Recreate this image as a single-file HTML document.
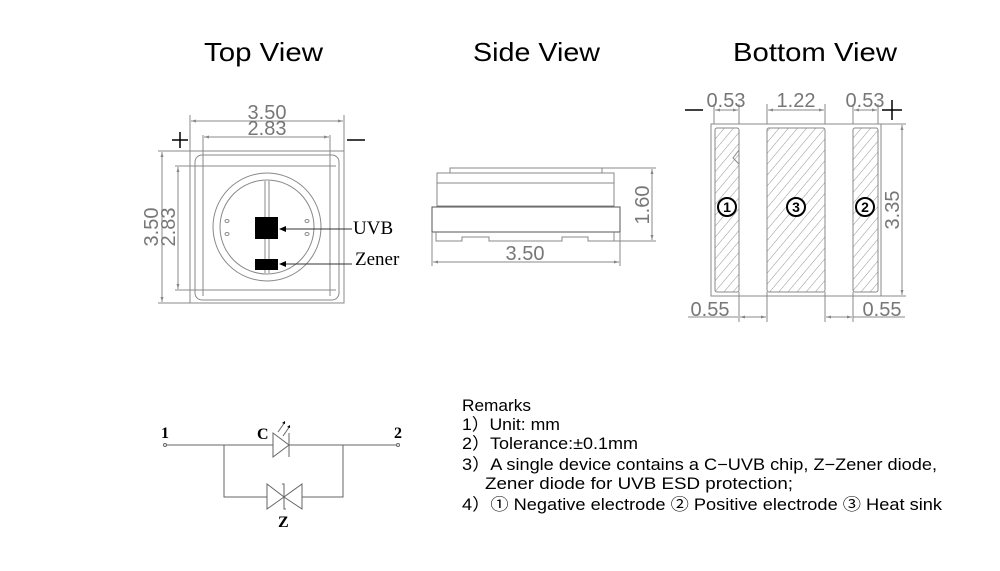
<!DOCTYPE html>
<html><head><meta charset="utf-8"><style>
body{margin:0;background:#fff;}
svg{display:block}
.t{font-family:"Liberation Sans",sans-serif;fill:#000}
.d{font-family:"Liberation Sans",sans-serif;fill:#777;font-size:20px}
.s{font-family:"Liberation Serif",serif;fill:#000}
</style></head><body>
<svg width="1000" height="571" viewBox="0 0 1000 571" xmlns="http://www.w3.org/2000/svg">
<defs>
<marker id="a" viewBox="0 0 10 10" refX="10" refY="5" markerWidth="7" markerHeight="5" orient="auto-start-reverse"><path d="M0,2 L10,5 L0,8z" fill="#888"/></marker>
<pattern id="h" width="7" height="7" patternUnits="userSpaceOnUse" patternTransform="rotate(40)"><line x1="0" y1="0" x2="0" y2="7" stroke="#888" stroke-width="0.9"/></pattern>
</defs>
<g class="t" font-size="26">
<text x="204" y="61" textLength="119" lengthAdjust="spacingAndGlyphs">Top View</text>
<text x="473" y="61" textLength="127" lengthAdjust="spacingAndGlyphs">Side View</text>
<text x="733" y="61" textLength="164" lengthAdjust="spacingAndGlyphs">Bottom View</text>
</g>
<!-- Top view -->
<g fill="none" stroke="#888" stroke-width="1">
<rect x="190" y="151" width="154" height="152"/>
<rect x="195" y="155" width="144" height="145" rx="7"/>
<line x1="203" y1="135" x2="203" y2="296"/><line x1="330" y1="135" x2="330" y2="296"/>
<line x1="175" y1="166" x2="336" y2="166"/><line x1="175" y1="290" x2="336" y2="290"/>
<line x1="190" y1="115" x2="190" y2="151"/><line x1="344" y1="115" x2="344" y2="151"/>
<line x1="158" y1="151" x2="190" y2="151"/><line x1="158" y1="303" x2="190" y2="303"/>
<circle cx="267" cy="227" r="54"/><circle cx="267" cy="227" r="47"/>
<line x1="265" y1="181" x2="265" y2="273"/><line x1="269" y1="181" x2="269" y2="273"/>
<line x1="191" y1="121" x2="343" y2="121" marker-start="url(#a)" marker-end="url(#a)"/>
<line x1="204" y1="137" x2="329" y2="137" marker-start="url(#a)" marker-end="url(#a)"/>
<line x1="162" y1="152" x2="162" y2="302" marker-start="url(#a)" marker-end="url(#a)"/>
<line x1="178" y1="167" x2="178" y2="289" marker-start="url(#a)" marker-end="url(#a)"/>
<ellipse cx="227" cy="221" rx="2" ry="1.5"/><ellipse cx="227" cy="234" rx="2" ry="1.5"/>
<ellipse cx="307" cy="221" rx="2" ry="1.5"/><ellipse cx="307" cy="234" rx="2" ry="1.5"/>
</g>
<rect x="255" y="217" width="23" height="22" fill="#000"/>
<rect x="255" y="259" width="23" height="11" fill="#000"/>
<g stroke="#333" stroke-width="1"><line x1="280" y1="229" x2="352" y2="229"/><line x1="280" y1="264" x2="352" y2="264"/></g>
<path d="M279,229 l7,-3 v6z M279,264 l7,-3 v6z" fill="#000"/>
<text class="s" x="353" y="234" font-size="19">UVB</text>
<text class="s" x="355" y="265" font-size="19">Zener</text>
<g stroke="#000" stroke-width="1.5"><line x1="172" y1="140" x2="188" y2="140"/><line x1="180" y1="132" x2="180" y2="148"/><line x1="347" y1="140" x2="365" y2="140"/></g>
<text class="d" x="267" y="119" text-anchor="middle">3.50</text>
<text class="d" x="267" y="135" text-anchor="middle">2.83</text>
<text class="d" transform="translate(158,227) rotate(-90)" text-anchor="middle">3.50</text>
<text class="d" transform="translate(175,227) rotate(-90)" text-anchor="middle">2.83</text>
<!-- Side view -->
<g fill="none" stroke="#888" stroke-width="1">
<path d="M450,173 V168 H602 V173"/>
<rect x="437" y="173" width="177" height="33"/>
<line x1="437" y1="183" x2="614" y2="183"/>
<rect x="432" y="207" width="188" height="25" stroke="#555"/>
<path d="M436,232 V241 H462 V237 H489 V241 H562 V237 H588 V241 H614 V232"/>
<line x1="602" y1="168" x2="656" y2="168"/><line x1="614" y1="241" x2="656" y2="241"/>
<line x1="652" y1="169" x2="652" y2="240" marker-start="url(#a)" marker-end="url(#a)"/>
<line x1="432" y1="232" x2="432" y2="266"/><line x1="620" y1="232" x2="620" y2="266"/>
<line x1="433" y1="262" x2="619" y2="262" marker-start="url(#a)" marker-end="url(#a)"/>
</g>
<text class="d" x="525" y="260" text-anchor="middle">3.50</text>
<text class="d" transform="translate(649,205) rotate(-90)" text-anchor="middle">1.60</text>
<!-- Bottom view -->
<g stroke="#888" stroke-width="1">
<rect x="711" y="124" width="170" height="172" fill="none"/>
<rect x="715" y="128" width="24" height="164" rx="2" fill="url(#h)"/>
<rect x="767" y="128" width="58" height="164" rx="2" fill="url(#h)"/>
<rect x="853" y="128" width="25" height="164" rx="2" fill="url(#h)"/>
<path d="M739,150 l-6,8 l6,6" fill="none"/>
<g fill="none">
<line x1="714" y1="104" x2="714" y2="124"/><line x1="739" y1="104" x2="739" y2="124"/>
<line x1="767" y1="104" x2="767" y2="124"/><line x1="825" y1="104" x2="825" y2="124"/>
<line x1="853" y1="104" x2="853" y2="124"/><line x1="878" y1="104" x2="878" y2="124"/>
<line x1="715" y1="110" x2="738" y2="110" marker-start="url(#a)" marker-end="url(#a)"/>
<line x1="768" y1="110" x2="824" y2="110" marker-start="url(#a)" marker-end="url(#a)"/>
<line x1="854" y1="110" x2="877" y2="110" marker-start="url(#a)" marker-end="url(#a)"/>
<line x1="881" y1="124" x2="906" y2="124"/><line x1="881" y1="296" x2="906" y2="296"/>
<line x1="902" y1="125" x2="902" y2="295" marker-start="url(#a)" marker-end="url(#a)"/>
<line x1="739" y1="292" x2="739" y2="322"/><line x1="767" y1="292" x2="767" y2="322"/>
<line x1="825" y1="292" x2="825" y2="322"/><line x1="853" y1="292" x2="853" y2="322"/>
<line x1="688" y1="317" x2="738" y2="317"/><line x1="740" y1="317" x2="766" y2="317" marker-start="url(#a)" marker-end="url(#a)"/>
<line x1="826" y1="317" x2="852" y2="317" marker-start="url(#a)" marker-end="url(#a)"/><line x1="853" y1="317" x2="905" y2="317"/>
</g>
</g>
<g stroke="#000" stroke-width="1.5"><line x1="685" y1="110" x2="703" y2="110"/><line x1="882" y1="110" x2="902" y2="110"/><line x1="892" y1="100" x2="892" y2="120"/></g>
<text class="d" x="726" y="107" text-anchor="middle">0.53</text>
<text class="d" x="796" y="107" text-anchor="middle">1.22</text>
<text class="d" x="865" y="107" text-anchor="middle">0.53</text>
<text class="d" x="710" y="316" text-anchor="middle">0.55</text>
<text class="d" x="882" y="316" text-anchor="middle">0.55</text>
<text class="d" transform="translate(899,210) rotate(-90)" text-anchor="middle">3.35</text>
<g fill="#fff" stroke="#000" stroke-width="2"><circle cx="727" cy="207" r="9"/><circle cx="796" cy="207" r="9"/><circle cx="865" cy="207" r="9"/></g>
<g class="t" font-size="14" font-weight="bold" text-anchor="middle"><text x="727" y="212">1</text><text x="796" y="212">3</text><text x="865" y="212">2</text></g>
<!-- Circuit -->
<g fill="none" stroke="#666" stroke-width="1">
<line x1="167" y1="445" x2="396" y2="445"/>
<circle cx="165" cy="445" r="1.5"/><circle cx="398" cy="445" r="1.5"/>
<path d="M224,445 V497 H267 M302,497 H343 V445"/>
<path d="M273,433 L289,445 L273,457z" fill="#fff"/><line x1="289" y1="433" x2="289" y2="457"/>
<path d="M267,484 V509 L284,497z M302,484 V509 L284,497z"/>
<path d="M282,484 H284 V509 H286"/>
<line x1="278" y1="432" x2="285" y2="422"/><line x1="283" y1="436" x2="290" y2="426"/>
</g>
<path d="M285,421 l-3,2 l3,1z M290,425 l-3,2 l3,1z" fill="#000"/>
<g class="s" font-size="16" font-weight="bold"><text x="161" y="438">1</text><text x="394" y="438">2</text><text x="257" y="439">C</text><text x="278" y="527">Z</text></g>
<!-- Remarks -->
<g class="t" font-size="16.5">
<text x="462" y="411" textLength="69" lengthAdjust="spacingAndGlyphs">Remarks</text>
<text x="462" y="430" textLength="98" lengthAdjust="spacingAndGlyphs">1）Unit: mm</text>
<text x="462" y="449" textLength="176" lengthAdjust="spacingAndGlyphs">2）Tolerance:±0.1mm</text>
<text x="462" y="470" textLength="475" lengthAdjust="spacingAndGlyphs">3）A single device contains a C−UVB chip, Z−Zener diode,</text>
<text x="485" y="489" textLength="308" lengthAdjust="spacingAndGlyphs">Zener diode for UVB ESD protection;</text>
<text x="462" y="510" textLength="480" lengthAdjust="spacingAndGlyphs">4）① Negative electrode ② Positive electrode ③ Heat sink</text>
</g>
</svg>
</body></html>
